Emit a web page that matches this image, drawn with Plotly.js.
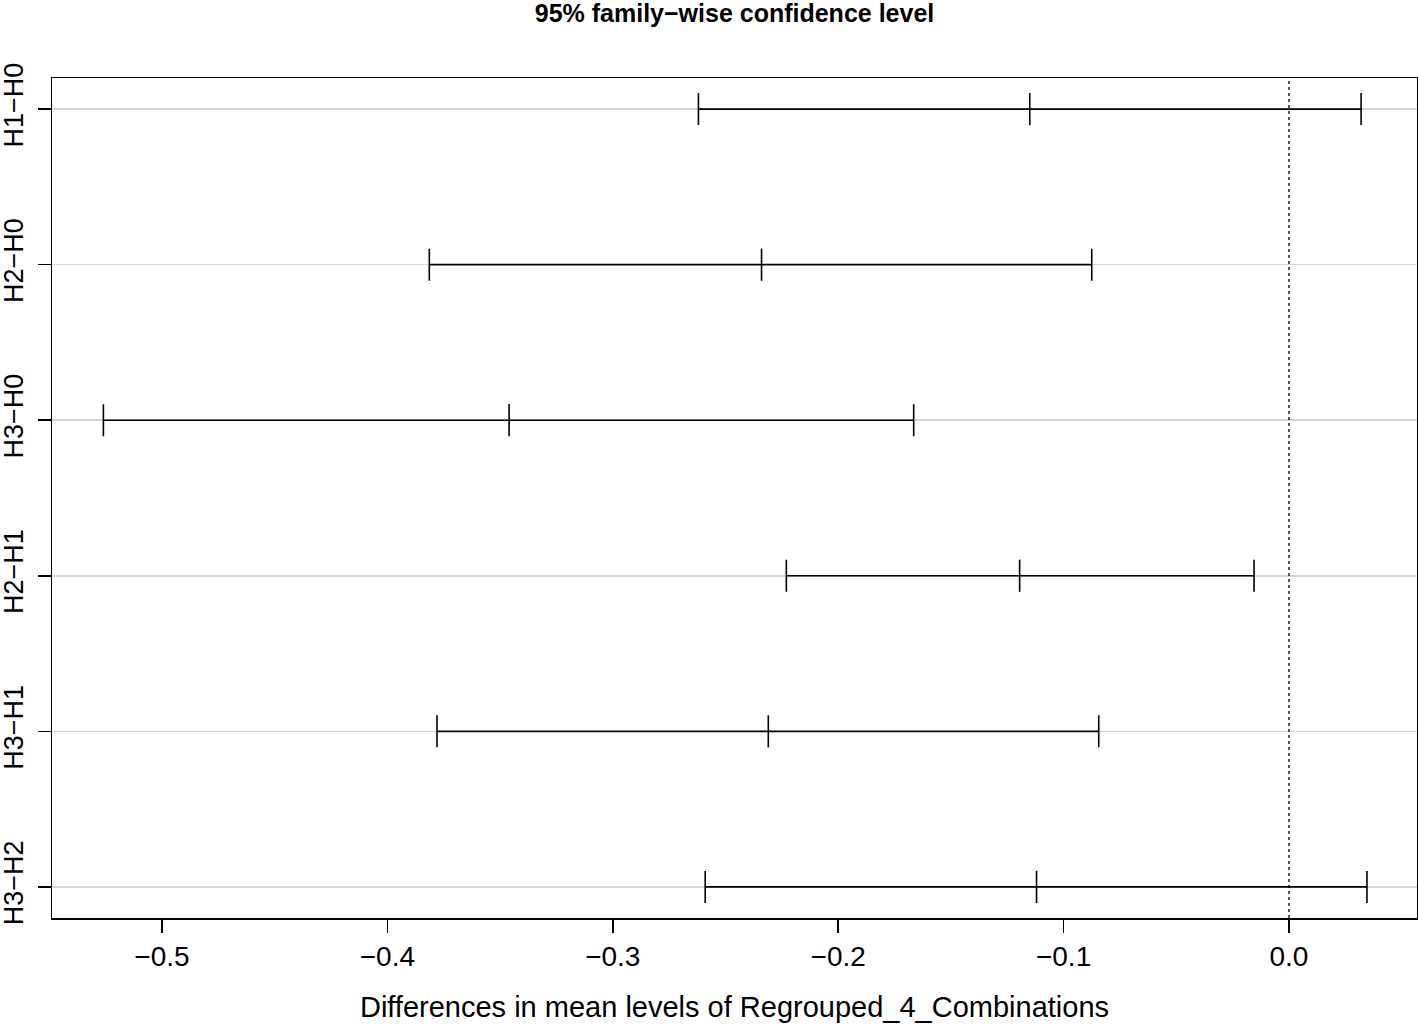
<!DOCTYPE html>
<html>
<head>
<meta charset="utf-8">
<script src="https://cdn.plot.ly/plotly-3.0.1.min.js"></script>
<style>html,body{margin:0;padding:0;background:#fff;}#chart{width:1418px;height:1024px;}</style>
</head>
<body>
<div id="chart"></div>
<script>
// Comparison labels (top to bottom)
const comparisons = ["H1\u2212H0", "H2\u2212H0", "H3\u2212H0", "H2\u2212H1", "H3\u2212H1", "H3\u2212H2"];
// Estimated differences and confidence limits
const diffs = [-0.115, -0.234, -0.346, -0.1195, -0.231, -0.112];
const lowers = [-0.262, -0.3814, -0.526, -0.223, -0.378, -0.259];
const uppers = [0.032, -0.0875, -0.1665, -0.0155, -0.0844, 0.0346];
// X-axis ticks
const xTickVals = [-0.5, -0.4, -0.3, -0.2, -0.1, 0.0];
const xTickText = ["\u22120.5", "\u22120.4", "\u22120.3", "\u22120.2", "\u22120.1", "0.0"];

const plus = uppers.map((u, i) => u - diffs[i]);
const minus = diffs.map((d, i) => d - lowers[i]);

const trace = {
  type: "scatter",
  mode: "markers",
  x: diffs,
  y: comparisons,
  marker: {symbol: "line-ns-open", size: 23, color: "black", line: {color: "black", width: 1.6}},
  error_x: {type: "data", symmetric: false, array: plus, arrayminus: minus, color: "black", thickness: 1.6, width: 16},
  hoverinfo: "x+y",
  showlegend: false
};

const font = "Liberation Sans, Arial, Helvetica, sans-serif";

const layout = {
  width: 1418,
  height: 1024,
  margin: {l: 52, r: 1, t: 78, b: 106},
  paper_bgcolor: "white",
  plot_bgcolor: "white",
  font: {family: font, color: "black", size: 28},
  title: {
    text: "<b>95% family\u2212wise confidence level</b>",
    font: {family: font, size: 25, color: "black"},
    x: 0.5, xref: "paper", xanchor: "center",
    y: 1, yref: "container", yanchor: "top", pad: {t: 4}
  },
  xaxis: {
    range: [-0.5488, 0.0568],
    tickmode: "array",
    tickvals: xTickVals,
    ticktext: xTickText,
    ticks: "outside",
    ticklen: 13,
    tickwidth: 1.5,
    tickcolor: "black",
    showgrid: false,
    zeroline: false,
    showline: true,
    linecolor: "black",
    linewidth: 1.5,
    mirror: true,
    tickfont: {size: 28},
    title: {text: "Differences in mean levels of Regrouped_4_Combinations", font: {size: 29}, standoff: 25}
  },
  yaxis: {
    type: "category",
    categoryorder: "array",
    categoryarray: comparisons,
    range: [5.2, -0.2],
    autorange: false,
    ticks: "outside",
    ticklen: 13,
    tickwidth: 1.5,
    tickcolor: "black",
    tickangle: -90,
    ticklabelstandoff: 4,
    showgrid: true,
    gridcolor: "#d3d3d3",
    gridwidth: 1.5,
    zeroline: false,
    showline: true,
    linecolor: "black",
    linewidth: 1.5,
    mirror: true,
    tickfont: {size: 27}
  },
  shapes: [{
    type: "line", xref: "x", yref: "paper", x0: 0, x1: 0, y0: 0, y1: 1,
    line: {color: "black", width: 1.3, dash: "dot"}
  }]
};

Plotly.newPlot("chart", [trace], layout, {displayModeBar: false, staticPlot: true});
</script>
</body>
</html>
